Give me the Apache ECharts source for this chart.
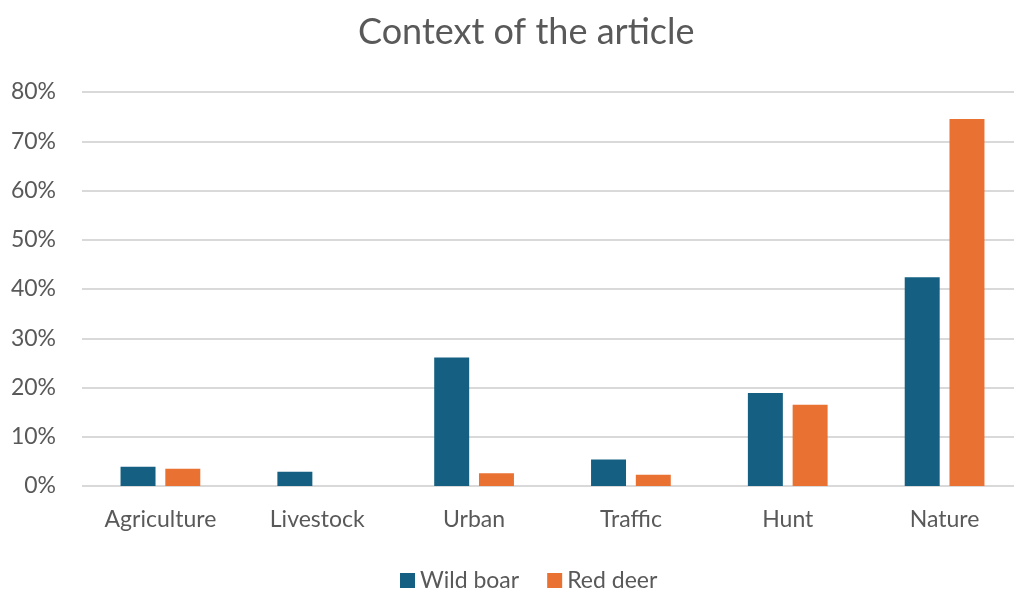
<!DOCTYPE html>
<html>
<head>
<meta charset="utf-8">
<script src="https://cdn.jsdelivr.net/npm/echarts@6/dist/echarts.min.js"></script>
<style>
  html, body { margin: 0; padding: 0; background: #fff; overflow: hidden; }
  #chart { width: 1014px; height: 589px; }
</style>
</head>
<body>
<div id="chart"></div>
<script>
// Share of articles by context, per species (percent)
const categories = ['Agriculture', 'Livestock', 'Urban', 'Traffic', 'Hunt', 'Nature'];
const wildBoar = [3.9, 2.9, 26.1, 5.4, 18.9, 42.4];
const redDeer = [3.5, 0, 2.6, 2.3, 16.5, 74.5];
const seriesNames = ['Wild boar', 'Red deer'];

const textColor = '#595959';
const fontFamily = 'Lato, "Noto Sans", sans-serif';

const chart = echarts.init(document.getElementById('chart'));
chart.setOption({
  animation: false,
  backgroundColor: '#ffffff',
  title: {
    text: 'Context of the article',
    left: 353,
    top: 9,
    textStyle: { color: textColor, fontSize: 36, fontWeight: 'normal', fontFamily }
  },
  legend: {
    data: seriesNames,
    top: 564,
    left: 395,
    itemWidth: 15,
    itemHeight: 15,
    itemGap: 28,
    icon: 'rect',
    textStyle: { color: textColor, fontSize: 23, fontFamily }
  },
  // plot area runs slightly past the right edge of the canvas
  grid: { left: 82, width: 941, top: 92, height: 394, outerBoundsMode: 'none', containLabel: false },
  xAxis: {
    type: 'category',
    data: categories,
    axisTick: { show: false },
    axisLine: { show: false },
    axisLabel: { color: textColor, fontSize: 23, margin: 22, fontFamily }
  },
  yAxis: {
    type: 'value',
    min: 0,
    max: 80,
    interval: 10,
    axisLine: { show: false },
    axisTick: { show: false },
    axisLabel: { formatter: '{value}%', color: textColor, fontSize: 23, margin: 26, fontFamily },
    splitLine: { lineStyle: { color: '#d9d9d9', width: 2 } }
  },
  series: [
    {
      name: seriesNames[0],
      type: 'bar',
      data: wildBoar,
      barWidth: '22.3%',
      barGap: '28%',
      itemStyle: { color: '#156082' }
    },
    {
      name: seriesNames[1],
      type: 'bar',
      data: redDeer,
      barWidth: '22.3%',
      itemStyle: { color: '#e97132' }
    }
  ]
});
</script>
</body>
</html>
